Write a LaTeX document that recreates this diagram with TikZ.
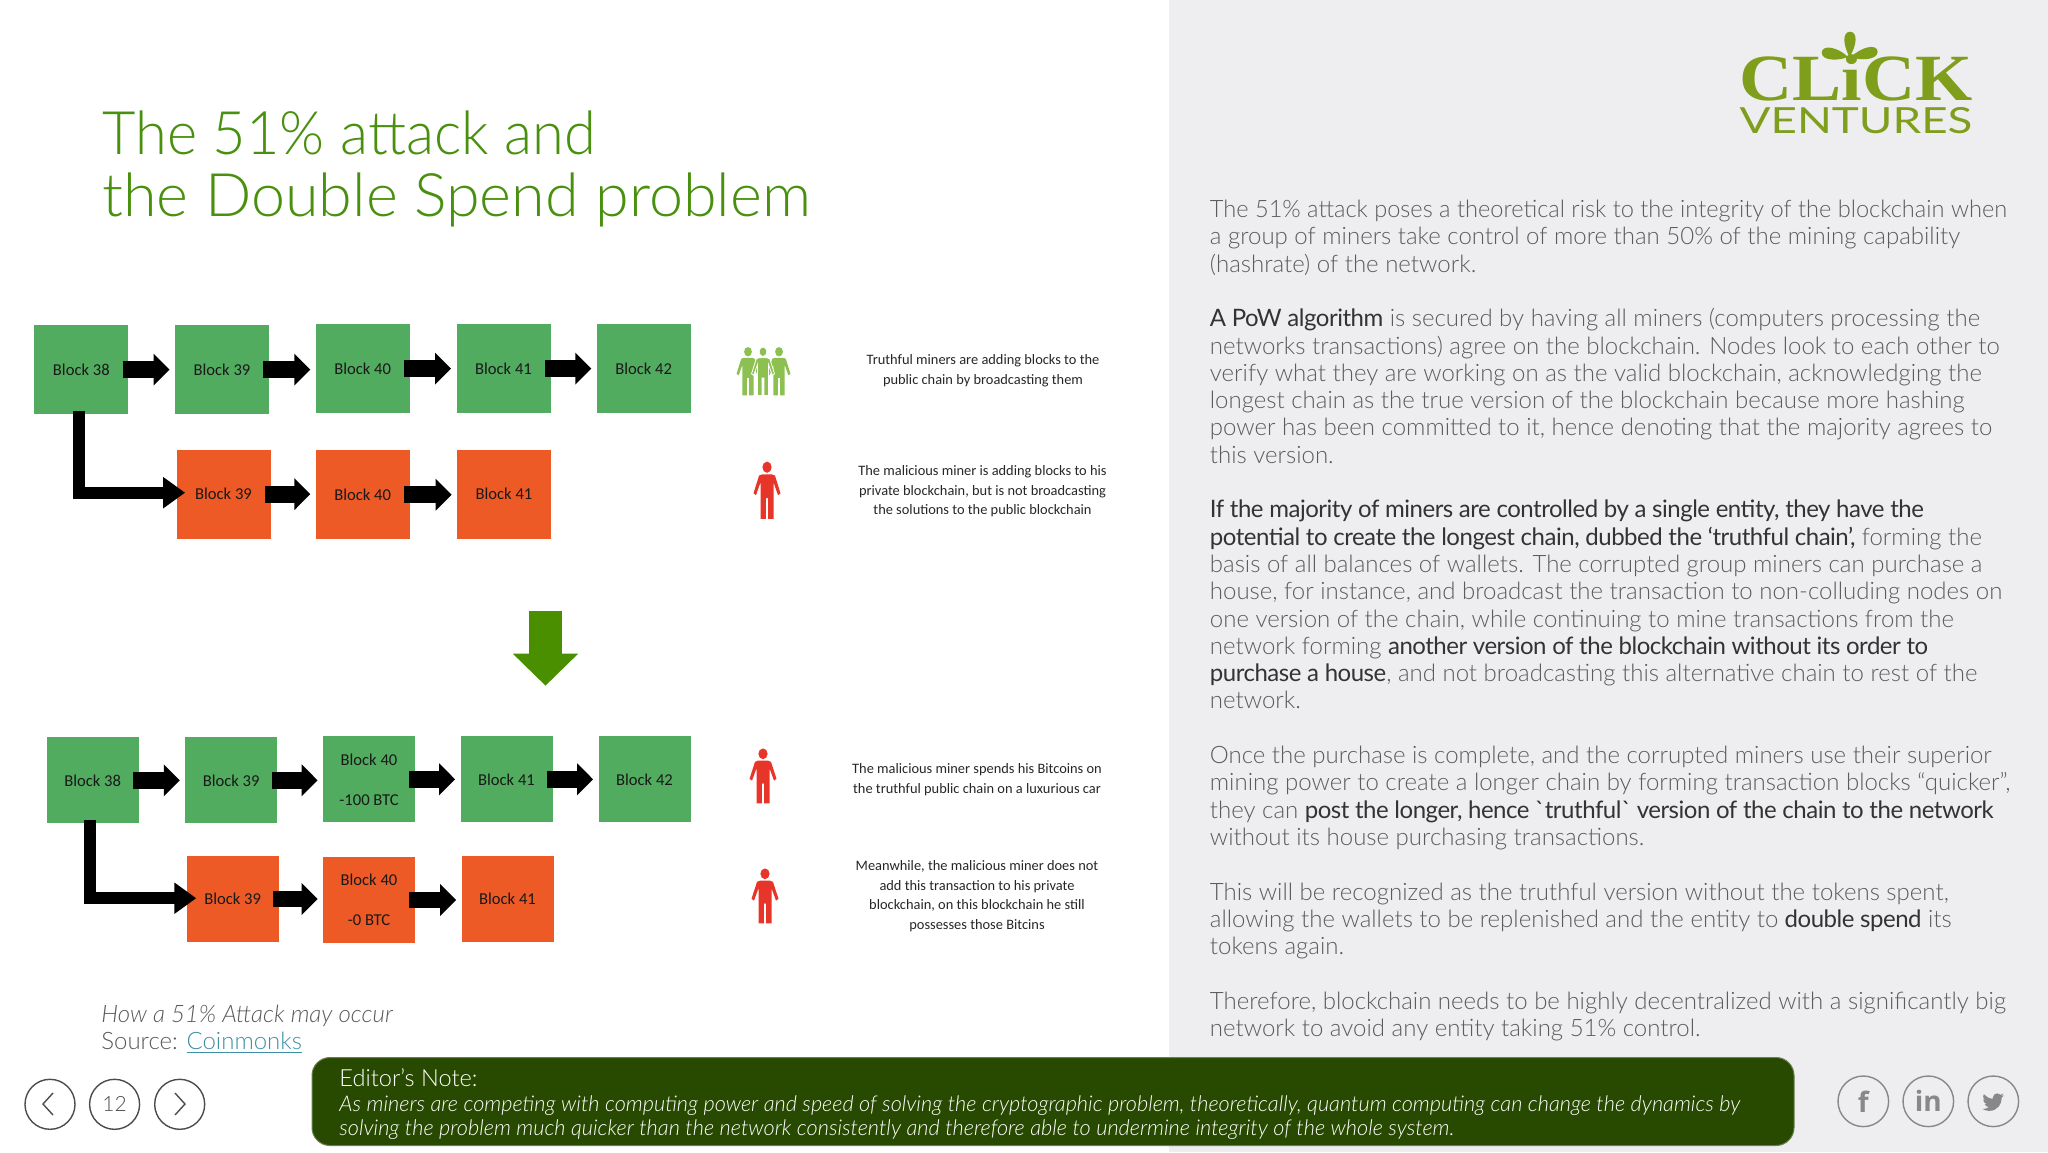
\documentclass[tikz,border=0pt]{standalone}
\usepackage{fontspec}
\setmainfont{Lato Light}[ItalicFont=Lato Light Italic,BoldFont=Lato]
\newfontfamily\latoreg{Lato}
\newfontfamily\latodark{Lato}[LetterSpace=-2]
\newfontfamily\blockfont{Carlito}
\newfontfamily\logofont{Liberation Serif Bold}
\newfontfamily\iconfont{Open Sans Bold}
\usetikzlibrary{arrows.meta}
\definecolor{panelgrey}{HTML}{EEEDEF}
\definecolor{titlegreen}{HTML}{4A900F}
\definecolor{blockgreen}{HTML}{52AC5F}
\definecolor{blockorange}{HTML}{EE5A26}
\definecolor{arrowgreen}{HTML}{4A8F00}
\definecolor{mangreen}{HTML}{8CC152}
\definecolor{manred}{HTML}{E8352A}
\definecolor{logogreen}{HTML}{7F9E1C}
\definecolor{notegreen}{HTML}{284A00}
\definecolor{bodygrey}{HTML}{5C5C5C}
\definecolor{linkblue}{HTML}{3F8FA5}
\definecolor{ringgrey}{HTML}{888888}
\newcommand{\dk}[1]{{\latodark\color{black!80}#1}}
\tikzset{
  bigblock/.style={inner sep=0pt,align=center,minimum width=47pt,minimum height=44.5pt,text=black!90,font=\blockfont\fontsize{8.3}{20}\selectfont},
  smallblock/.style={bigblock,minimum width=46pt,minimum height=43pt},
  chain/.style={line width=8.3pt,shorten <=-3pt,shorten >=2.5pt,-{Triangle[length=8pt,width=15.5pt]}},
  fork/.style={line width=6.2pt,shorten <=-2pt,-{Triangle[length=11pt,width=15pt]}},
  minertext/.style={inner sep=0pt,align=center,text=black!85,font=\blockfont\fontsize{7.2}{9.8}\selectfont},
  bodyline/.style={inner sep=0pt,anchor=base west,text=bodygrey,font=\fontsize{12}{14}\selectfont},
  titleline/.style={inner sep=0pt,anchor=base west,text=titlegreen,font=\fontsize{30}{36}\selectfont},
  noteline/.style={inner sep=0pt,anchor=base west,text=white,font=\fontsize{10.85}{12}\selectfont\itshape},
  navring/.style={draw=black!70,line width=.7pt,circle,minimum size=25pt,inner sep=0pt},
  socialring/.style={draw=ringgrey,line width=.7pt,circle,minimum size=25.3pt,inner sep=0pt,text=ringgrey},
  person/.pic={
    \path[pic actions] (0,4.6) circle[radius=4.6];
    \path[pic actions] (-5,10.5) -- (5,10.5) -- (8,11.5) -- (13.5,26) -- (11,27.5) -- (6.5,17) -- (6.5,47) -- (1.2,47) -- (1.2,30)
      -- (-1.2,30) -- (-1.2,47) -- (-6.5,47) -- (-6.5,17) -- (-11,27.5) -- (-13.5,26) -- (-8,11.5) -- cycle;
  }
}
\begin{document}
\begin{tikzpicture}[x=.5pt,y=-.5pt]
  \useasboundingbox (0,0) rectangle (2048,1152);
  \fill[panelgrey] (1169,0) rectangle (2048,1152);

  \node[titleline] (title1) at (102,154.3) {\scalebox{.962}[1]{The 51\% attack and}};
  \node[titleline] (title2) at (102,216) {\scalebox{1.017}[1]{the Double Spend problem}};

  \node[bigblock,fill=blockgreen] (t38) at (81.3,369.6) {Block 38};
  \node[bigblock,fill=blockgreen] (t39) at (222,369.6) {Block 39};
  \node[bigblock,fill=blockgreen] (t40) at (362.7,368.6) {Block 40};
  \node[bigblock,fill=blockgreen] (t41) at (503.5,368.6) {Block 41};
  \node[bigblock,fill=blockgreen] (t42) at (643.7,368.6) {Block 42};
  \node[bigblock,fill=blockorange] (p39) at (223.5,494.2) {Block 39};
  \node[bigblock,fill=blockorange] (p40) at (362.7,494.7) {Block 40};
  \node[bigblock,fill=blockorange] (p41) at (504,494.2) {Block 41};
  \draw[chain] (t38) -- (t39.west |- t38);
  \draw[chain] (t39) -- (t40.west |- t39);
  \draw[chain] (t40) -- (t41.west |- t40);
  \draw[chain] (t41) -- (t42.west |- t41);
  \draw[chain] (p39) -- (p40.west |- p39);
  \draw[chain] (p40) -- (p41.west |- p40);
  \coordinate (fork1) at (78.7,492.7);
  \draw[fork,shorten >=-4.5pt] (t38.south -| fork1) -- (fork1) -- (p39.west |- fork1);

  \coordinate (down1) at (545.5,610.7);
  \coordinate (down2) at (545.5,685.7);
  \draw[arrowgreen,line width=16.5pt,-{Triangle[length=16pt,width=31.7pt]}] (down1) -- (down2);

  \node[smallblock,fill=blockgreen] (u38) at (92.7,780.3) {Block 38};
  \node[smallblock,fill=blockgreen] (u39) at (231.2,780.3) {Block 39};
  \node[smallblock,fill=blockgreen] (u40) at (369,779.3) {Block 40\\-100 BTC};
  \node[smallblock,fill=blockgreen] (u41) at (506.5,779.3) {Block 41};
  \node[smallblock,fill=blockgreen] (u42) at (644.5,779.3) {Block 42};
  \node[smallblock,fill=blockorange] (q39) at (232.7,899) {Block 39};
  \node[smallblock,fill=blockorange] (q40) at (369,900) {Block 40\\-0 BTC};
  \node[smallblock,fill=blockorange] (q41) at (507.5,899) {Block 41};
  \draw[chain] (u38) -- (u39.west |- u38);
  \draw[chain] (u39) -- (u40.west |- u39);
  \draw[chain] (u40) -- (u41.west |- u40);
  \draw[chain] (u41) -- (u42.west |- u41);
  \draw[chain] (q39) -- (q40.west |- q39);
  \draw[chain] (q40) -- (q41.west |- q40);
  \coordinate (fork2) at (90.2,898.2);
  \draw[fork,shorten >=-5pt] (u38.south -| fork2) -- (fork2) -- (q39.west |- fork2);

  \pic[fill=mangreen,xscale=.85,yscale=1.03] at (748,347) {person};
  \pic[fill=mangreen,xscale=.85,yscale=1.03] at (779,347) {person};
  \pic[fill=mangreen,draw=white,line width=.4pt,xscale=.85,yscale=1.03] at (763,347) {person};
  \pic[fill=manred,yscale=1.22] at (767,461.6) {person};
  \pic[fill=manred,yscale=1.17] at (763,748.4) {person};
  \pic[fill=manred,yscale=1.17] at (765,868.4) {person};

  \node[minertext] (say1) at (983,370.6) {Truthful miners are adding blocks to the\\public chain by broadcasting them};
  \node[minertext] (say2) at (982.5,491.5) {The malicious miner is adding blocks to his\\private blockchain, but is not broadcasting\\the solutions to the public blockchain};
  \node[minertext] (say3) at (977,779.7) {The malicious miner spends his Bitcoins on\\the truthful public chain on a luxurious car};
  \node[minertext] (say4) at (977,896) {Meanwhile, the malicious miner does not\\add this transaction to his private\\blockchain, on this blockchain he still\\possesses those Bitcins};

  \node[inner sep=0pt,anchor=base west,text=black!65,font=\fontsize{12}{14}\selectfont\itshape] (cap1) at (101,1022) {How a 51\% Attack may occur};
  \node[inner sep=0pt,anchor=base west,text=black!65,font=\fontsize{12}{14}\selectfont] (cap2) at (101,1049) {Source: \textcolor{linkblue}{\underline{Coinmonks}}};

  \foreach \n/\t in {
    0/{\scalebox{.983}[1]{The 51\% attack poses a theoretical risk to the integrity of the blockchain when}},
    1/{a group of miners take control of more than 50\% of the mining capability},
    2/{(hashrate) of the network.},
    4/{\dk{A PoW algorithm} is secured by having all miners (computers processing the},
    5/{networks transactions) agree on the blockchain. Nodes look to each other to},
    6/{verify what they are working on as the valid blockchain, acknowledging the},
    7/{longest chain as the true version of the blockchain because more hashing},
    8/{power has been committed to it, hence denoting that the majority agrees to},
    9/{this version.},
    11/{\dk{If the majority of miners are controlled by a single entity, they have the}},
    12/{\dk{potential to create the longest chain, dubbed the ‘truthful chain’,} forming the},
    13/{basis of all balances of wallets. The corrupted group miners can purchase a},
    14/{house, for instance, and broadcast the transaction to non-colluding nodes on},
    15/{one version of the chain, while continuing to mine transactions from the},
    16/{network forming \dk{another version of the blockchain without its order to}},
    17/{\dk{purchase a house}, and not broadcasting this alternative chain to rest of the},
    18/{network.},
    20/{Once the purchase is complete, and the corrupted miners use their superior},
    21/{mining power to create a longer chain by forming transaction blocks “quicker”,},
    22/{they can \dk{post the longer, hence \textasciigrave truthful\textasciigrave{} version of the chain to the network}},
    23/{without its house purchasing transactions.},
    25/{This will be recognized as the truthful version without the tokens spent,},
    26/{allowing the wallets to be replenished and the entity to \dk{double spend} its},
    27/{tokens again.},
    29/{Therefore, blockchain needs to be highly decentralized with a significantly big},
    30/{network to avoid any entity taking 51\% control.}}
    \node[bodyline] (line\n) at (1209.5,{217.5+27.3*\n}) {\t};

  \node[inner sep=0pt,anchor=base,text=logogreen,font=\logofont\fontsize{33}{36}\selectfont] (logo1) at (1856,100) {\scalebox{1.115}[1]{CLiCK}};
  \node[inner sep=0pt,anchor=base,text=logogreen,font=\latoreg\fontsize{18}{20}\selectfont] (logo2) at (1856,133) {\scalebox{1.27}[1]{VENTURES}};
  \fill[logogreen] (1849.5,57) .. controls (1843,45) and (1842,32) .. (1850,31.7) .. controls (1858,32) and (1857,45) .. (1849.5,57) -- cycle;
  \fill[logogreen] (1848,57) .. controls (1838,47) and (1822,44) .. (1821.7,52.7) .. controls (1822,61) and (1838,61) .. (1848,57) -- cycle;
  \fill[logogreen] (1851,57) .. controls (1861,47) and (1877,43) .. (1877.7,51.7) .. controls (1877,60) and (1861,61) .. (1851,57) -- cycle;

  \node[navring] (prev) at (50,1104.3) {};
  \node[navring,text=black!70,font=\fontsize{10.5}{12}\selectfont] (page) at (114.6,1104.3) {12};
  \node[navring] (next) at (179.7,1104.3) {};
  \draw[black!70,line width=.7pt] (53,1093) -- (43,1104) -- (53,1115);
  \draw[black!70,line width=.7pt] (175,1093) -- (185,1104) -- (175,1115);

  \fill[notegreen,draw=notegreen!70!white,line width=.5pt,rounded corners=9pt] (312,1057.5) rectangle (1794,1145.5);
  \node[noteline,font=\fontsize{11.8}{14}\selectfont] (note0) at (339,1086) {Editor's Note:};
  \node[noteline] (note1) at (339,1111) {As miners are competing with computing power and speed of solving the cryptographic problem, theoretically, quantum computing can change the dynamics by};
  \node[noteline] (note2) at (339,1135) {solving the problem much quicker than the network consistently and therefore able to undermine integrity of the whole system.};

  \node[socialring,font=\iconfont\fontsize{14}{16}\selectfont] (fb) at (1863.3,1101.3) {f};
  \node[socialring,font=\iconfont\fontsize{14}{16}\selectfont] (li) at (1928.3,1101.3) {in};
  \node[socialring] (tw) at (1993.3,1101.3) {};
  \begin{scope}[shift={(1982.3,1091.3)},x=.45pt,y=-.45pt]
    \fill[ringgrey] (24,4.57) .. controls (23.1,5) and (22.1,5.25) .. (21.13,5.35)
      .. controls (22.15,4.73) and (22.93,3.77) .. (23.29,2.62)
      .. controls (22.34,3.18) and (21.29,3.58) .. (20.16,3.8)
      .. controls (19.26,2.84) and (17.98,2.25) .. (16.57,2.25)
      .. controls (13.85,2.25) and (11.65,4.45) .. (11.65,7.17)
      .. controls (11.65,7.56) and (11.69,7.93) .. (11.77,8.29)
      .. controls (7.69,8.1) and (4.07,6.13) .. (1.64,3.16)
      .. controls (1.22,3.89) and (0.97,4.73) .. (0.97,5.64)
      .. controls (0.97,7.35) and (1.84,8.85) .. (3.16,9.73)
      .. controls (2.35,9.7) and (1.6,9.48) .. (0.93,9.12)
      -- (0.93,9.18)
      .. controls (0.93,11.56) and (2.63,13.55) .. (4.88,14)
      .. controls (4.47,14.11) and (4.03,14.17) .. (3.58,14.17)
      .. controls (3.26,14.17) and (2.96,14.14) .. (2.66,14.08)
      .. controls (3.29,16.03) and (5.1,17.45) .. (7.26,17.49)
      .. controls (5.58,18.81) and (3.45,19.6) .. (1.16,19.6)
      .. controls (0.77,19.6) and (0.38,19.58) .. (0,19.53)
      .. controls (2.18,20.93) and (4.77,21.74) .. (7.56,21.74)
      .. controls (16.6,21.74) and (21.55,14.24) .. (21.55,7.75)
      .. controls (21.55,7.54) and (21.55,7.33) .. (21.54,7.12)
      .. controls (22.5,6.43) and (23.34,5.57) .. (24,4.59) -- cycle;
  \end{scope}
\end{tikzpicture}
\end{document}
